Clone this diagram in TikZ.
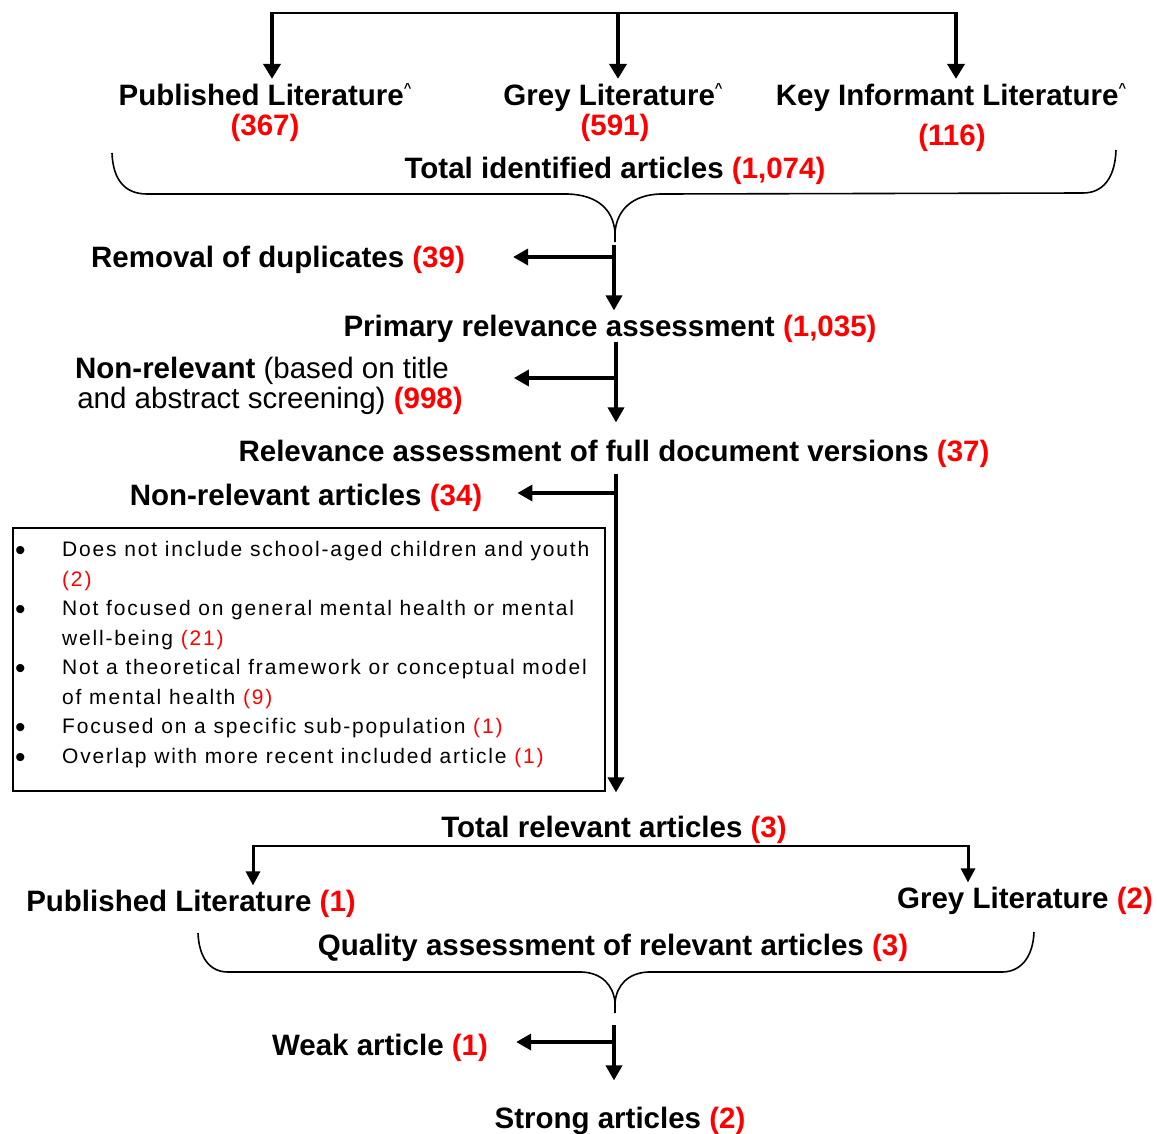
\documentclass[tikz,border=0pt]{standalone}
\usepackage{fontspec}
\setmainfont{Liberation Sans}
\newfontfamily\boxfont[LetterSpace=8.7]{Liberation Sans}
\usetikzlibrary{arrows.meta}
\definecolor{numred}{RGB}{255,0,0}
\newcommand\rnum[1]{\textcolor{numred}{#1}}
\newcommand\hatmark{\raisebox{13pt}{\fontsize{13}{13}\selectfont\textasciicircum}}
\newcommand\bulletmark{\hspace*{1pt}\raisebox{-4pt}[0pt][0pt]{\fontsize{30}{29.5}\selectfont\textbullet}}
\begin{document}
\begin{tikzpicture}[x=1pt,y=-1pt,
  hd/.style={font=\fontsize{29.5}{31}\selectfont\bfseries, anchor=base, inner sep=4pt},
  nm/.style={font=\fontsize{29.5}{31}\selectfont, anchor=base, inner sep=4pt},
  spine/.style={line width=3.5pt, -{Triangle[width=16pt,length=15pt]}},
  branch/.style={line width=3.5pt, -{Triangle[width=16pt,length=15pt]}},
  toparr/.style={line width=4pt, -{Triangle[width=17pt,length=15pt]}},
  splitarr/.style={line width=3pt, -{Triangle[width=14pt,length=14pt]}},
  thinln/.style={line width=2pt},
  bracel/.style={line width=1.6pt},
  critlist/.style={anchor=base west, inner sep=0pt, font=\boxfont\fontsize{21}{29.5}\selectfont}
]
\useasboundingbox (0,0) rectangle (1157,1133);

% ---- top sources
\node[hd] (pub) at (265,105) {Published Literature\hatmark};
\node[hd] (grey) at (613,105) {Grey Literature\hatmark};
\node[hd] (key) at (951,105) {Key Informant Literature\hatmark};
\node[hd,text=numred] (pubn) at (265,135) {(367)};
\node[hd,text=numred] (greyn) at (615,135) {(591)};
\node[hd,text=numred] (keyn) at (952,145) {(116)};
\node[hd] (total) at (615,178) {Total identified articles \rnum{(1,074)}};

\coordinate (tl) at (272,13);
\coordinate (tm) at (618,13);
\coordinate (tr) at (956,13);
\draw[thinln] (tl) -- (tr);
\draw[toparr] ([yshift=1pt]tl) -- (tl |- pub.north);
\draw[toparr] ([yshift=1pt]tm) -- (tm |- grey.north);
\draw[toparr] ([yshift=1pt]tr) -- (tr |- key.north);

% ---- brace 1
\draw[bracel] (112,153) .. controls (113,180) and (125,194) .. (147,194) -- (568,194)
  .. controls (598,195) and (613,210) .. (615,232) -- (615,242);
\draw[bracel] (1116,150) .. controls (1115,178) and (1103,193) .. (1083,193) -- (660,194)
  .. controls (632,195) and (617,210) .. (615,232);

% ---- flow
\node[hd] (rem) at (278,267) {Removal of duplicates \rnum{(39)}};
\node[hd] (prim) at (610,336) {Primary relevance assessment \rnum{(1,035)}};
\node[nm] (nr1) at (262,378) {\textbf{Non-relevant} (based on title};
\node[nm] (nr2) at (270,408) {and abstract screening) \textbf{\rnum{(998)}}};
\node[hd] (full) at (614,461) {Relevance assessment of full document versions \rnum{(37)}};
\node[hd] (nra) at (306,505) {Non-relevant articles \rnum{(34)}};

\coordinate (s1) at (614,245);
\coordinate (j1) at (614,257);
\draw[spine] (s1) -- (s1 |- prim.north);
\draw[branch, shorten >=44pt] (j1) -- (j1 -| rem.east);

\coordinate (s2) at (616,342);
\coordinate (j2) at (616,378);
\draw[spine, shorten >=13pt] (s2) -- (s2 |- full.north);
\draw[branch, shorten >=47pt] (j2) -- (j2 -| nr2.east);

% ---- criteria box
\node[draw, line width=2pt, anchor=north west, minimum width=592pt, minimum height=263pt, inner sep=0pt] (critbox) at (12,527) {};
\node[critlist] (crit) at (14,556.5) {\begin{tabular}[t]{@{}p{48pt}@{}l@{}}
\bulletmark & Does not include school-aged children and youth\\
 & \rnum{(2)}\\
\bulletmark & Not focused on general mental health or mental\\
 & well-being \rnum{(21)}\\
\bulletmark & Not a theoretical framework or conceptual model\\
 & of mental health \rnum{(9)}\\
\bulletmark & Focused on a specific sub-population \rnum{(1)}\\
\bulletmark & Overlap with more recent included article \rnum{(1)}
\end{tabular}};

\node[hd] (trel) at (614,837) {Total relevant articles \rnum{(3)}};
\coordinate (s3) at (616,474);
\coordinate (j3) at (616,493);
\draw[spine, shorten >=19pt] (s3) -- (s3 |- trel.north);
\draw[branch, shorten >=31pt] (j3) -- (j3 -| nra.east);

% ---- split
\node[hd] (pub2) at (191,911) {Published Literature \rnum{(1)}};
\node[hd] (grey2) at (1025,908) {Grey Literature \rnum{(2)}};
\coordinate (dl) at (253,846);
\coordinate (dr) at (968,846);
\draw[thinln] (dl) -- (dr);
\draw[splitarr] ([yshift=1pt]dl) -- (dl |- pub2.north);
\draw[splitarr] ([yshift=1pt]dr) -- (dr |- grey2.north);

% ---- brace 2
\node[hd] (qual) at (613,955) {Quality assessment of relevant articles \rnum{(3)}};
\draw[bracel] (198,933) .. controls (199,958) and (210,972) .. (228,972) -- (582,972)
  .. controls (602,973) and (613,985) .. (615,1002) -- (615,1013);
\draw[bracel] (1034,932) .. controls (1033,958) and (1020,972) .. (1002,972) -- (648,972)
  .. controls (628,973) and (617,985) .. (615,1002);

% ---- final
\node[hd] (weak) at (380,1055) {Weak article \rnum{(1)}};
\node[hd] (strong) at (620,1128) {Strong articles \rnum{(2)}};
\coordinate (s4) at (614,1025);
\coordinate (j4) at (614,1042);
\draw[spine, shorten >=22pt] (s4) -- (s4 |- strong.north);
\draw[branch, shorten >=24pt] (j4) -- (j4 -| weak.east);
\end{tikzpicture}
\end{document}
